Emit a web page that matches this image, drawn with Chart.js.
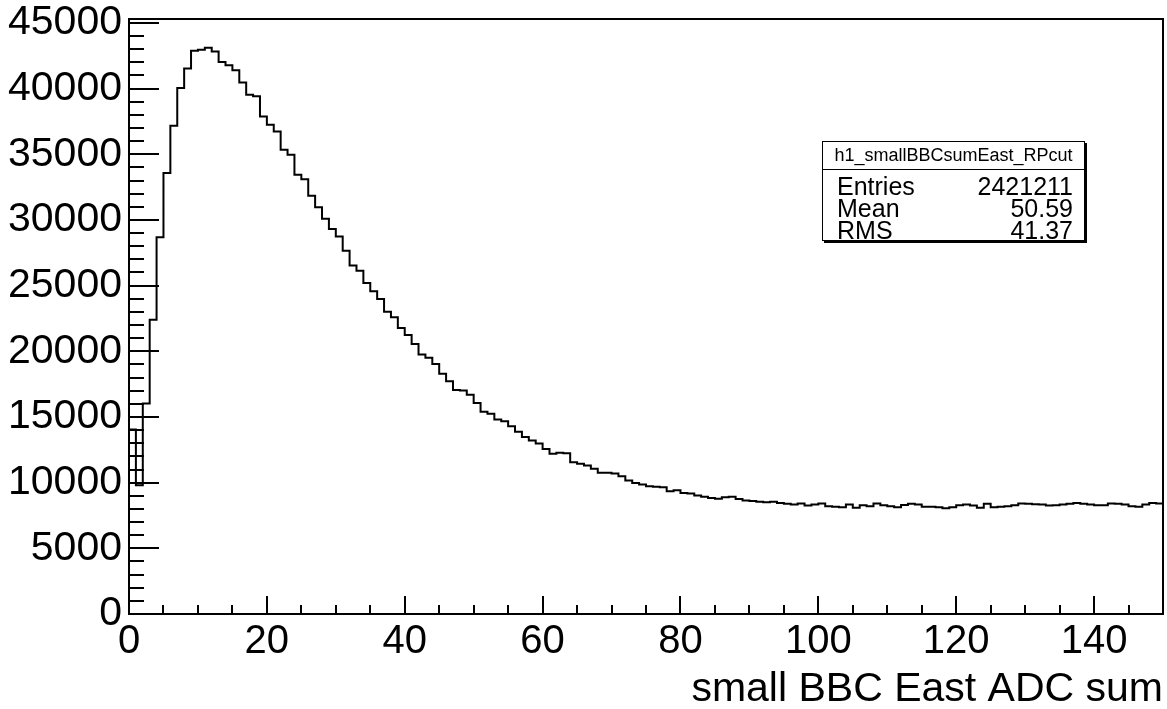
<!DOCTYPE html>
<html>
<head>
<meta charset="utf-8">
<title>small BBC East ADC sum</title>
<script src="https://cdn.jsdelivr.net/npm/chart.js@4.4.0/dist/chart.umd.min.js"></script>
<style>
  html, body { margin: 0; padding: 0; background: #fff; }
</style>
</head>
<body>
<canvas id="h1" width="1167" height="709"></canvas>
<script>
// h1_smallBBCsumEast_RPcut : 150 bins of width 1 between 0 and 150
var binCounts = [
  14040, 9800, 16020, 22410, 28680, 33580, 37180, 40050, 41540, 42880,
  42960, 43110, 42830, 42020, 41770, 41390, 40470, 39540, 39410, 37880,
  37250, 36740, 35350, 34970, 33450, 33100, 31850, 30960, 30100, 29310,
  28750, 27660, 26540, 26140, 25210, 24570, 23990, 23020, 22590, 21780,
  21250, 20560, 19750, 19500, 19040, 18300, 17720, 17060, 17010, 16700,
  16070, 15390, 15240, 14800, 14670, 14290, 13870, 13470, 13200, 12980,
  12570, 12210, 12270, 12240, 11550, 11430, 11300, 11050, 10750, 10750,
  10690, 10490, 10160, 9980, 9860, 9730, 9680, 9650, 9350, 9420,
  9220, 9170, 9020, 8920, 8840, 8770, 8890, 8920, 8750, 8650,
  8600, 8550, 8500, 8540, 8460, 8390, 8330, 8410, 8260, 8330,
  8410, 8200, 8160, 8130, 8330, 8080, 8280, 8200, 8410, 8280,
  8200, 8130, 8300, 8390, 8330, 8160, 8160, 8130, 8050, 8130,
  8280, 8330, 8260, 8080, 8390, 8130, 8160, 8200, 8280, 8410,
  8390, 8350, 8330, 8260, 8280, 8330, 8390, 8460, 8390, 8330,
  8280, 8280, 8410, 8390, 8330, 8200, 8160, 8330, 8460, 8410
];
var xMin = 0, xMax = 150;
var yMax = 45300;
var xTickValues = [0, 20, 40, 60, 80, 100, 120, 140];
var yTickValues = [0, 5000, 10000, 15000, 20000, 25000, 30000, 35000, 40000, 45000];
var statsTitle = 'h1_smallBBCsumEast_RPcut';
var statsNames = ['Entries', 'Mean', 'RMS'];
var statsValues = ['2421211', '50.59', '41.37'];

var FONT = "'Liberation Sans', Arial, Helvetica, sans-serif";

// step outline: one point on each low edge, plus the top edge of the last bin
var points = binCounts.map(function (c, i) { return { x: xMin + i, y: c }; });
points.push({ x: xMax, y: binCounts[binCounts.length - 1] });

function fixedTicks(values) {
  return function (s) {
    s.ticks = values.map(function (v) { return { value: v }; });
  };
}

// frame, inward ticks and the stats box, ROOT style
var rootFrame = {
  id: 'rootFrame',
  afterDatasetsDraw: function (chart) {
    var ctx = chart.ctx, a = chart.chartArea;
    var xs = chart.scales.x, ys = chart.scales.y;
    ctx.save();
    ctx.strokeStyle = '#000';
    ctx.lineWidth = 2;
    ctx.strokeRect(a.left, a.top, a.right - a.left, a.bottom - a.top);

    ctx.beginPath();
    for (var v = 0; v <= 45000; v += 1000) {
      var py = Math.round(ys.getPixelForValue(v));
      var len = v % 5000 === 0 ? 30 : 15;
      ctx.moveTo(a.left, py);
      ctx.lineTo(a.left + len, py);
    }
    for (var u = xMin; u <= xMax; u += 5) {
      var px = Math.round(xs.getPixelForValue(u));
      var l2 = u % 20 === 0 ? 18 : 9;
      ctx.moveTo(px, a.bottom);
      ctx.lineTo(px, a.bottom - l2);
    }
    ctx.stroke();

    // stats box
    var bx = 822, by = 141, bw = 263, bh = 100;
    ctx.fillStyle = '#000';
    ctx.fillRect(bx + 2, by + 2, bw, bh);
    ctx.fillStyle = '#fff';
    ctx.fillRect(bx, by, bw, bh);
    ctx.lineWidth = 1;
    ctx.strokeRect(bx + 0.5, by + 0.5, bw - 1, bh - 1);
    ctx.beginPath();
    ctx.moveTo(bx, by + 28.5);
    ctx.lineTo(bx + bw, by + 28.5);
    ctx.stroke();

    ctx.fillStyle = '#000';
    ctx.textBaseline = 'middle';
    ctx.font = '18px ' + FONT;
    ctx.textAlign = 'center';
    ctx.fillText(statsTitle, bx + bw / 2, by + 15);
    ctx.font = '25px ' + FONT;
    for (var r = 0; r < statsNames.length; r++) {
      var ry = by + 47 + r * 22;
      ctx.textAlign = 'left';
      ctx.fillText(statsNames[r], bx + 15, ry);
      ctx.textAlign = 'right';
      ctx.fillText(statsValues[r], bx + bw - 12, ry);
    }
    ctx.restore();
  }
};

var chart = new Chart(document.getElementById('h1'), {
  type: 'line',
  data: {
    datasets: [{
      label: statsTitle,
      data: points,
      stepped: true,
      borderColor: '#000',
      borderWidth: 2,
      pointRadius: 0,
      fill: false,
      tension: 0
    }]
  },
  options: {
    responsive: false,
    animation: false,
    devicePixelRatio: 1,
    layout: { padding: { top: 19, right: 4, left: 0, bottom: 0 } },
    plugins: {
      legend: { display: false },
      tooltip: { enabled: false }
    },
    scales: {
      x: {
        type: 'linear',
        min: xMin,
        max: xMax,
        grid: { display: false, drawTicks: false },
        border: { display: false },
        afterBuildTicks: fixedTicks(xTickValues),
        ticks: {
          maxRotation: 0,
          autoSkip: false,
          padding: 4,
          color: '#000',
          font: { family: FONT, size: 40 },
          callback: function (v) { return String(v); }
        },
        title: {
          display: true,
          text: 'small BBC East ADC sum',
          align: 'end',
          color: '#000',
          font: { family: FONT, size: 41 },
          padding: { top: 0, bottom: -5 }
        },
        afterFit: function (s) {
          s.height = 95;
          s.paddingLeft = 0;
          s.paddingRight = 0;
        }
      },
      y: {
        min: 0,
        max: yMax,
        grid: { display: false, drawTicks: false },
        border: { display: false },
        afterBuildTicks: fixedTicks(yTickValues),
        ticks: {
          autoSkip: false,
          padding: 7,
          color: '#000',
          font: { family: FONT, size: 41 },
          callback: function (v) { return String(v); }
        },
        afterFit: function (s) {
          s.width = 129;
          s.paddingTop = 0;
          s.paddingBottom = 0;
        }
      }
    }
  },
  plugins: [rootFrame]
});
</script>
</body>
</html>
